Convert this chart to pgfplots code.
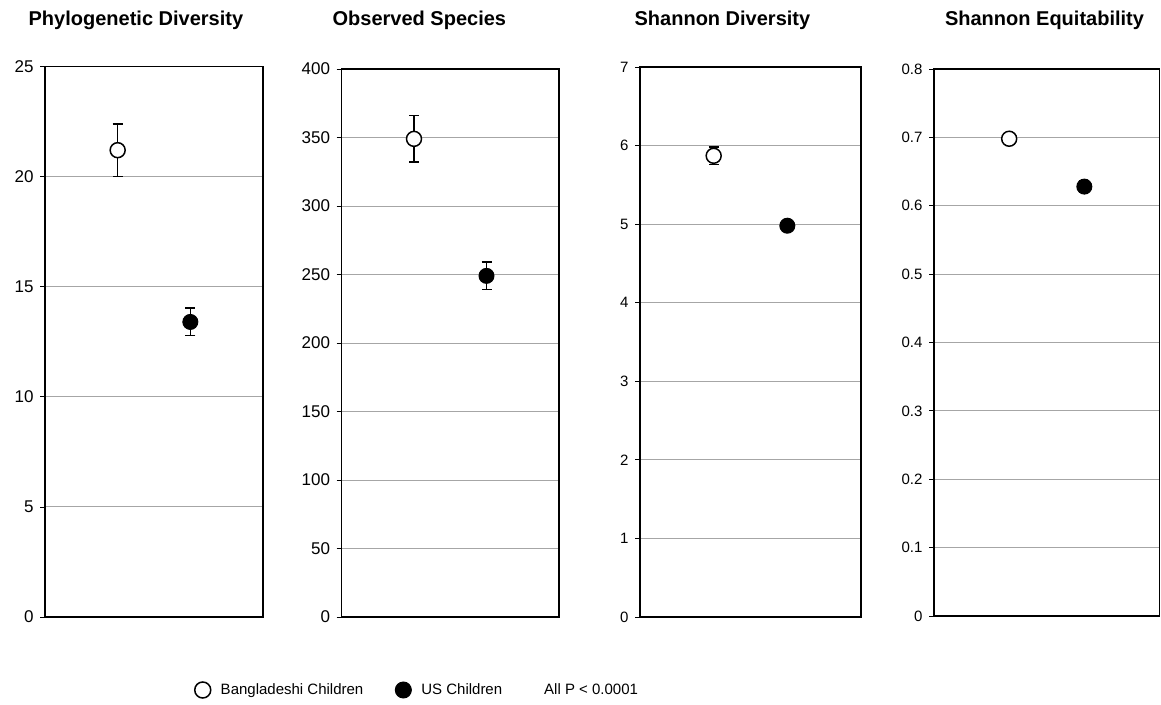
\documentclass[border=0pt]{standalone}
\usepackage{fontspec}
\setmainfont{Liberation Sans}
\usepackage{pgfplots}
\pgfplotsset{compat=1.18}
\pgfplotsset{
  panel/.style={
    scale only axis,
    xmin=0, xmax=3,
    xtick=\empty,
    ymin=0,
    axis line style={line width=1.5pt, black},
    ymajorgrids,
    grid style={gray!70, line width=0.9pt},
    tick align=outside,
    ytick pos=left,
    ytick style={black, line width=0.8pt},
    major tick length=5pt,
    /pgf/number format/assume math mode=true,
    yticklabel style={font=\fontsize{17}{20}\selectfont, xshift=-3pt},
    title style={font=\fontsize{20}{24}\selectfont\bfseries, anchor=base},
    error bars/y dir=both,
    error bars/y explicit,
    error bars/error bar style={line width=1.6pt, black},
    error bars/error mark options={rotate=90, mark size=5pt, line width=1.6pt, black},
  },
  bang/.style={only marks, mark=*, mark size=7.5pt, mark options={fill=white, draw=black, line width=1.5pt}},
  us/.style={only marks, mark=*, mark size=7.5pt, mark options={fill=black, draw=black, line width=1pt}},
}
\begin{document}
\begin{tikzpicture}
\path[use as bounding box] (0,0) rectangle (1161pt,704pt);

\begin{axis}[panel, at={(45pt,87pt)}, anchor=south west, width=218pt, height=550.5pt,
  ymax=25, ytick={0,5,10,15,20,25},
  title={Phylogenetic Diversity}, title style={at={(0.417,1)}, yshift=34.5pt},
  legend columns=3,
  legend style={draw=none, fill=none, inner sep=0pt, at={(0.686,-0.1326)}, anchor=west,
    font=\fontsize{15}{18}\selectfont,
    /tikz/every odd column/.append style={column sep=8pt},
    /tikz/every even column/.append style={column sep=30pt}},
  legend image post style={mark size=8pt}]
\addplot+[bang] coordinates {(1,21.2) +- (0,1.2)};
\addlegendentry{Bangladeshi Children}
\addplot+[us] coordinates {(2,13.4) +- (0,0.62)};
\addlegendentry{US Children}
\addlegendimage{empty legend}
\addlegendentry{All P < 0.0001}
\end{axis}

\begin{axis}[panel, at={(341.5pt,87pt)}, anchor=south west, width=217.5pt, height=548pt,
  ymax=400, ytick={0,50,...,400},
  title={Observed Species}, title style={at={(0.358,1)}, yshift=37pt}]
\addplot+[bang] coordinates {(1,349) +- (0,17)};
\addplot+[us] coordinates {(2,249) +- (0,10)};
\end{axis}

\begin{axis}[panel, at={(640pt,87pt)}, anchor=south west, width=221pt, height=550pt,
  ymax=7, ytick={0,1,...,7},
  yticklabel style={font=\fontsize{15}{18}\selectfont},
  title={Shannon Diversity}, title style={at={(0.373,1)}, yshift=35pt}]
\addplot+[bang] coordinates {(1,5.87) +- (0,0.11)};
\addplot+[us] coordinates {(2,4.98) +- (0,0.06)};
\end{axis}

\begin{axis}[panel, at={(934pt,88pt)}, anchor=south west, width=225.5pt, height=547pt,
  ymax=0.8, ytick={0,0.1,0.2,0.3,0.4,0.5,0.6,0.7,0.8},
  yticklabel style={font=\fontsize{15}{18}\selectfont, /pgf/number format/fixed},
  title={Shannon Equitability}, title style={at={(0.49,1)}, yshift=37pt}]
\addplot+[bang] coordinates {(1,0.698) +- (0,0.006)};
\addplot+[us] coordinates {(2,0.628) +- (0,0.008)};
\end{axis}
\end{tikzpicture}
\end{document}
